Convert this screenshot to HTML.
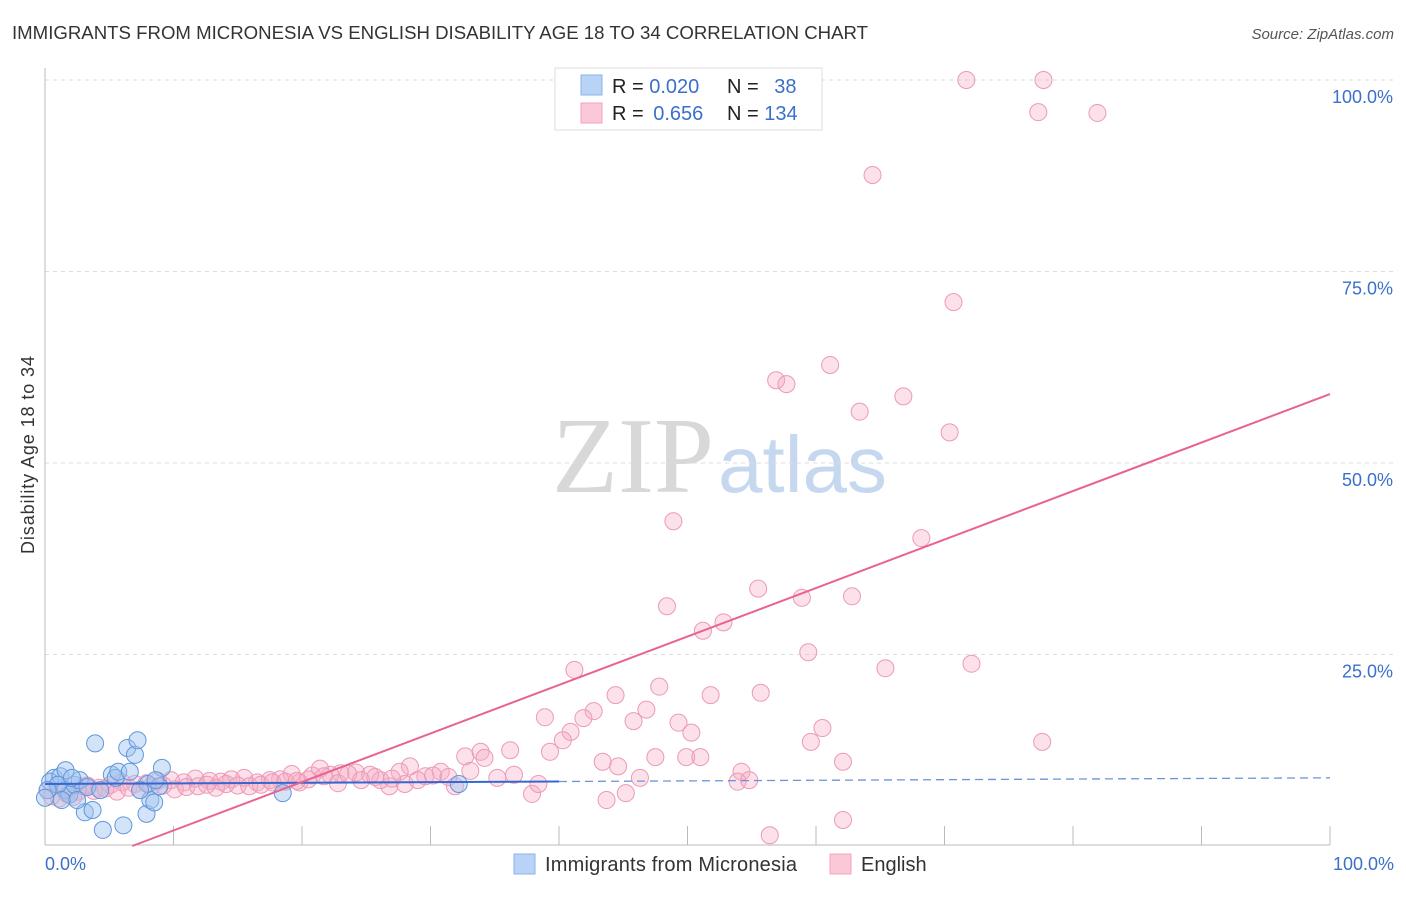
<!DOCTYPE html>
<html><head><meta charset="utf-8"><style>
body{margin:0;background:#fff;font-family:"Liberation Sans",sans-serif}
</style></head><body>
<svg id="c" width="1406" height="892" xmlns="http://www.w3.org/2000/svg">
<text x="12" y="39" font-size="18" fill="#333" textLength="856" lengthAdjust="spacingAndGlyphs">IMMIGRANTS FROM MICRONESIA VS ENGLISH DISABILITY AGE 18 TO 34 CORRELATION CHART</text>
<text x="1394" y="39" font-size="15" fill="#555" font-style="italic" text-anchor="end">Source: ZipAtlas.com</text>
<text x="714" y="492" font-size="108" fill="#d8d8d8" text-anchor="end" font-family="Liberation Serif,serif">ZIP</text>
<text x="718" y="492" font-size="80" fill="#c6d8ef">atlas</text>
<text transform="translate(34,455) rotate(-90)" font-size="18" fill="#333" text-anchor="middle" textLength="198">Disability Age 18 to 34</text>
<g id="grid"></g><g id="pts"></g><g id="lines"></g>
<g>
<rect x="555" y="68" width="267" height="62" fill="#fff" stroke="#ddd"/>
<rect x="581" y="75" width="21" height="20" fill="#b8d3f5" stroke="#8ab3e8"/>
<rect x="581" y="103" width="21" height="20" fill="#fbc8d8" stroke="#f0a2bc"/>
<text x="612" y="93" font-size="20" fill="#222">R = <tspan fill="#3a70c9">0.020</tspan></text>
<text x="727" y="93" font-size="20" fill="#222">N = <tspan fill="#3a70c9" dx="10">38</tspan></text>
<text x="612" y="120" font-size="20" fill="#222">R = <tspan fill="#3a70c9" dx="4">0.656</tspan></text>
<text x="727" y="120" font-size="20" fill="#222">N = <tspan fill="#3a70c9">134</tspan></text>
</g>
<g>
<rect x="514" y="854" width="21" height="20" fill="#b8d3f5" stroke="#8ab3e8"/>
<text x="545" y="871" font-size="20" fill="#333" textLength="252">Immigrants from Micronesia</text>
<rect x="830" y="854" width="21" height="20" fill="#fbc8d8" stroke="#f0a2bc"/>
<text x="861" y="871" font-size="20" fill="#333">English</text>
</g>
<text x="45" y="870" font-size="18" fill="#3a70c9">0.0%</text>
<text x="1394" y="870" font-size="18" fill="#3a70c9" text-anchor="end">100.0%</text>
</svg>
<script>
const yTicks=[25,50,75,100];
const yTickLabels=["25.0%","50.0%","75.0%","100.0%"];
const xTicks=[0,10,20,30,40,50,60,70,80,90,100];
const blueX=[0.7,0.4,1.2,1.6,1.9,2.3,2.7,3.3,3.9,3.1,3.7,4.5,5.2,5.5,5.7,6.4,7.0,7.2,6.1,7.9,8.2,8.5,9.1,8.0,8.9,6.6,18.5,32.2,1.6,1.0,0.2,0.0,2.5,4.3,7.4,2.1,1.3,8.6];
const blueY=[8.9,8.4,9.1,7.3,6.7,8.0,8.6,7.7,13.4,4.4,4.7,2.1,9.3,8.9,9.7,12.8,11.9,13.8,2.7,4.2,6.0,5.7,10.2,8.1,7.8,9.7,6.9,8.1,9.9,8.0,7.3,6.3,6.0,7.3,7.3,8.9,6.0,8.6];
const pinkX=[71.7,77.7,77.3,81.9,64.4,70.7,61.1,56.9,57.7,66.8,63.4,70.4,48.9,68.2,55.5,58.9,62.8,48.4,52.8,51.2,59.4,72.1,65.4,41.2,47.8,44.4,51.8,55.7,77.6,42.7,41.9,46.8,38.9,45.8,49.3,50.3,60.5,59.6,40.9,40.3,39.3,32.7,33.9,34.2,36.2,43.4,44.6,47.5,49.9,51.0,62.1,54.2,53.9,54.8,46.3,43.7,45.2,56.4,62.1,37.9,38.4,36.5,35.2,33.1,31.9,30.8,29.6,28.4,27.6,26.8,28.0,26.1,25.3,24.2,23.0,22.2,21.4,20.8,19.8,19.2,18.3,17.5,16.5,15.5,14.5,13.7,12.8,11.7,10.8,9.8,8.8,7.9,7.0,6.0,5.1,4.2,3.3,2.6,1.7,1.1,0.5,0.2,1.4,2.2,3.0,3.8,4.7,5.6,6.5,7.4,8.3,9.2,10.1,11.0,11.9,12.6,13.3,14.1,15.0,15.9,16.8,17.7,18.7,19.6,20.5,21.7,22.8,23.6,24.6,25.7,27.0,29.0,30.2,31.4];
const pinkY=[100,100,95.8,95.7,87.6,71.0,62.8,60.8,60.3,58.7,56.7,54.0,42.4,40.2,33.6,32.4,32.6,31.3,29.2,28.1,25.3,23.8,23.2,23.0,20.8,19.7,19.7,20.0,13.6,17.6,16.7,17.8,16.8,16.3,16.1,14.8,15.4,13.6,14.9,13.8,12.3,11.7,12.3,11.5,12.5,11.0,10.4,11.6,11.6,11.6,11.0,9.7,8.4,8.6,8.9,6.0,6.9,1.4,3.4,6.8,8.1,9.3,8.9,9.8,7.8,9.7,9.1,10.4,9.7,7.8,8.1,8.6,9.3,9.6,9.5,9.3,10.1,9.2,8.3,9.4,8.7,8.6,8.3,8.9,8.7,8.4,8.5,8.8,8.3,8.6,8.5,8.2,8.1,8.3,8.0,7.6,7.9,7.1,6.8,6.2,6.5,7.3,7.6,6.4,7.8,7.2,7.5,7.1,7.6,7.3,7.8,7.9,7.4,7.7,7.8,8.0,7.6,8.1,7.9,7.8,8.0,8.3,8.4,8.5,8.7,9.1,8.2,9.4,8.6,9.0,8.8,8.6,9.2,9.0];
const blueLine=[8.1,8.9], pinkLine=[-4.3,59];
const X0=45,X1=1330,Y0=846,Y1=80;
const sx=v=>X0+(X1-X0)*v/100, sy=v=>Y0-(Y0-Y1)*v/100;
const NS="http://www.w3.org/2000/svg";
function mk(t,a,p){const e=document.createElementNS(NS,t);for(const k in a)e.setAttribute(k,a[k]);p.appendChild(e);return e;}
const g=document.getElementById('grid');
yTicks.forEach((v,i)=>{
 const l=mk('line',{x1:X0,x2:1394,y1:sy(v),y2:sy(v),stroke:'#ddd','stroke-dasharray':'4,4'},g);
 
 
 const t=mk('text',{x:1393,y:sy(v)+23,'font-size':18,fill:'#3a70c9','text-anchor':'end'},g);
 t.textContent=yTickLabels[i];
 
 
});
const ax=mk('line',{x1:X0,x2:X1,y1:845,y2:845,stroke:'#bbb'},g);


const ay=mk('line',{x1:X0,x2:X0,y1:68,y2:845,stroke:'#bbb'},g);


xTicks.forEach(v=>{const t=mk('line',{x1:sx(v),x2:sx(v),y1:826,y2:845,stroke:'#bbb'},g);
 
 });
const p=document.getElementById('pts');
pinkX.forEach((x,i)=>{const c=mk('circle',{cx:sx(x),cy:sy(pinkY[i]),r:8.5,fill:'rgba(246,170,196,0.35)',stroke:'#eb9ab5','stroke-width':1},p);
 
 });
blueX.forEach((x,i)=>{const c=mk('circle',{cx:sx(x),cy:sy(blueY[i]),r:8.5,fill:'rgba(160,196,240,0.45)',stroke:'#5f97dc','stroke-width':1},p);
 
 });
const L=document.getElementById('lines');
const bv=x=>blueLine[0]+(blueLine[1]-blueLine[0])*x/100;
const b1=mk('line',{x1:sx(0),y1:sy(bv(0)),x2:sx(40),y2:sy(bv(40)),stroke:'#3567cf','stroke-width':2},L);


const b2=mk('line',{x1:sx(40),y1:sy(bv(40)),x2:sx(100),y2:sy(bv(100)),stroke:'#6b94d8','stroke-width':1.3,'stroke-dasharray':'8,5'},L);


const pv=x=>pinkLine[0]+(pinkLine[1]-pinkLine[0])*x/100;
const x0=(0-pinkLine[0])/(pinkLine[1]-pinkLine[0])*100;
const pl=mk('line',{x1:sx(x0),y1:sy(0),x2:sx(100),y2:sy(pv(100)),stroke:'#e8638f','stroke-width':2},L);


</script>
</body></html>
